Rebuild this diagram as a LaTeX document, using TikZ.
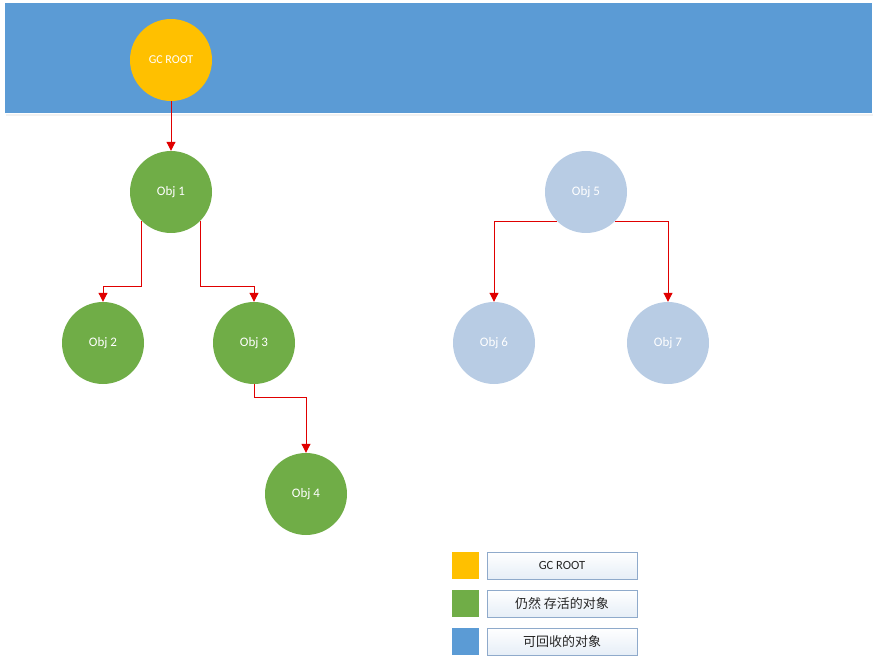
\documentclass[tikz,border=0pt]{standalone}
\usepackage{fontspec}
\setmainfont{Carlito}
\newfontfamily\cjk{Noto Sans CJK SC}
\usetikzlibrary{arrows.meta,calc}
\definecolor{bandblue}{HTML}{5B9BD5}
\definecolor{rootyellow}{HTML}{FFC000}
\definecolor{livegreen}{HTML}{70AD47}
\definecolor{deadblue}{HTML}{B8CCE4}
\definecolor{arrowred}{HTML}{E00000}
\definecolor{legborder}{HTML}{8FAACB}
\definecolor{legfill}{HTML}{E6EEF7}
\tikzset{
  obj/.style={circle, minimum size=82pt, inner sep=0pt, text=white, font=\fontsize{13}{15}\selectfont},
  live/.style={obj, fill=livegreen},
  dead/.style={obj, fill=deadblue},
  root/.style={obj, fill=rootyellow, font=\fontsize{12}{14}\selectfont},
  link/.style={draw=arrowred, line width=1pt, -{Triangle[length=9pt,width=9pt]}},
  swatch/.style={minimum width=27pt, minimum height=27pt, inner sep=0pt},
  legbox/.style={draw=legborder, line width=0.8pt, top color=white, bottom color=legfill, minimum width=150pt, minimum height=27pt, inner sep=0pt, text=black!85, font=\fontsize{12.5}{14}\selectfont},
}
\begin{document}
\begin{tikzpicture}[x=1pt,y=-1pt]
\useasboundingbox (0,0) rectangle (878,663);
% band
\fill[black!5] (6,114) rectangle (873,116);
\node[fill=bandblue, minimum width=867pt, minimum height=110pt, inner sep=0pt, anchor=north west] (band) at (5,3) {};
% nodes
\node[root] (root) at (171,60) {GC ROOT};
\node[live] (o1) at (171,192) {Obj 1};
\node[live] (o2) at (103,343) {Obj 2};
\node[live] (o3) at (254,343) {Obj 3};
\node[live] (o4) at (306,494) {Obj 4};
\node[dead] (o5) at (586,192) {Obj 5};
\node[dead] (o6) at (494,343) {Obj 6};
\node[dead] (o7) at (668,343) {Obj 7};
% connectors
\draw[link] (root.south) -- (o1.north);
\draw[link] (o1.south west) |- ($(o2.north)+(0,-15)$) -- (o2.north);
\draw[link] (o1.south east) |- ($(o3.north)+(0,-15)$) -- (o3.north);
\draw[link] (o3.south) |- ($(o4.north)+(0,-55)$) -- (o4.north);
\draw[link] (o5.south west) -| (o6.north);
\draw[link] (o5.south east) -| (o7.north);
% legend
\node[swatch, fill=rootyellow] (s1) at (465.5,565.5) {};
\node[swatch, fill=livegreen] (s2) at (465.5,603.5) {};
\node[swatch, fill=bandblue] (s3) at (465.5,641.5) {};
\node[legbox] (l1) at (562,565.5) {GC ROOT};
\node[legbox] (l2) at (562,603.5) {\cjk\fontsize{13}{15}\selectfont 仍然 存活的对象};
\node[legbox] (l3) at (562,641.5) {\cjk\fontsize{13}{15}\selectfont 可回收的对象};
\end{tikzpicture}
\end{document}
